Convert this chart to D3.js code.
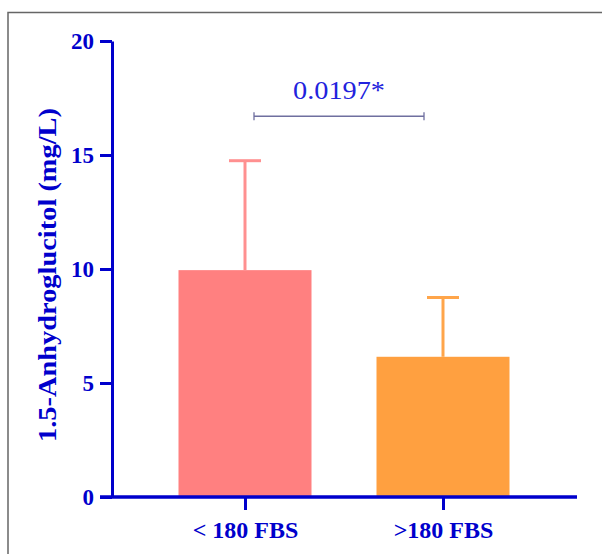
<!DOCTYPE html>
<html><head><meta charset="utf-8">
<script src="https://cdn.jsdelivr.net/npm/d3@7"></script>
<style>body{margin:0;background:#fff}svg{display:block}</style>
</head><body>
<svg id="c" width="602" height="554"></svg>
<script>
const categories = ["< 180 FBS", ">180 FBS"];
const means = [9.95, 6.15];
const sds = [4.8, 2.6];
const barColors = ["#ff8080", "#ffa040"];
const errColors = ["#ff9090", "#ffa54a"];
const yTicks = [0, 5, 10, 15, 20];
const pLabel = "0.0197*";
const pLevel = 16.7;
const yTitle = "1.5-Anhydroglucitol (mg/L)";

const svg = d3.select("#c");
const blue = "#0000cc";
const font = "'Liberation Serif','Times New Roman',serif";

// frame
svg.append("path").attr("d","M8,554 V12.5 H602").attr("fill","none").attr("stroke","#666").attr("stroke-width",1.5);

const y = d3.scaleLinear().domain([0,20]).range([497,41]);
const xPos = d3.scalePoint().domain(categories).range([245,443]);
const bw = 133;

// bars
categories.forEach((c,i)=>{
  svg.append("rect").attr("x", xPos(c)-bw/2).attr("y", y(means[i])).attr("width", bw)
    .attr("height", y(0)-y(means[i])).attr("fill", barColors[i]);
  svg.append("line").attr("x1",xPos(c)).attr("x2",xPos(c)).attr("y1",y(means[i])).attr("y2",y(means[i]+sds[i]))
    .attr("stroke",errColors[i]).attr("stroke-width",3);
  svg.append("line").attr("x1",xPos(c)-16).attr("x2",xPos(c)+16).attr("y1",y(means[i]+sds[i])).attr("y2",y(means[i]+sds[i]))
    .attr("stroke",errColors[i]).attr("stroke-width",3);
});

// y axis
const yAxis = d3.axisLeft(y).tickValues(yTicks).tickSize(12).tickPadding(6).tickSizeOuter(0);
const gy = svg.append("g").attr("transform","translate(112,0)").call(yAxis);
gy.select(".domain").attr("stroke",blue).attr("stroke-width",3);
gy.selectAll(".tick line").attr("stroke",blue).attr("stroke-width",3);
gy.selectAll(".tick text").attr("fill",blue).style("font-family",font).style("font-weight","bold").style("font-size","23px");

// x axis
svg.append("line").attr("x1",100).attr("x2",577).attr("y1",y(0)).attr("y2",y(0)).attr("stroke",blue).attr("stroke-width",3.5);
const xAxis = d3.axisBottom(xPos).tickSize(13).tickPadding(11).tickSizeOuter(0);
const gx = svg.append("g").attr("transform",`translate(0,${y(0)})`).call(xAxis);
gx.select(".domain").remove();
gx.selectAll(".tick line").attr("stroke",blue).attr("stroke-width",3);
gx.selectAll(".tick text").attr("fill",blue).style("font-family",font).style("font-weight","bold").style("font-size","24px");

// y title
svg.append("text").attr("transform",`translate(56,275) rotate(-90)`).attr("text-anchor","middle")
  .attr("textLength",334).attr("lengthAdjust","spacingAndGlyphs")
  .attr("fill",blue).style("font-family",font).style("font-weight","bold").style("font-size","25px").text(yTitle);

// significance
const sx1 = 254, sx2 = 424;
const sy = y(pLevel);
svg.append("line").attr("x1",sx1).attr("x2",sx2).attr("y1",sy).attr("y2",sy).attr("stroke","#6f6f9f").attr("stroke-width",1.3);
[sx1,sx2].forEach(v=>svg.append("line").attr("x1",v).attr("x2",v).attr("y1",sy-4).attr("y2",sy+4).attr("stroke","#6f6f9f").attr("stroke-width",1.3));
svg.append("text").attr("x",(sx1+sx2)/2).attr("y",99).attr("text-anchor","middle").attr("fill","#2222dd")
  .attr("textLength",92).attr("lengthAdjust","spacingAndGlyphs")
  .style("font-family",font).style("font-size","25px").text(pLabel);
</script>
</body></html>
